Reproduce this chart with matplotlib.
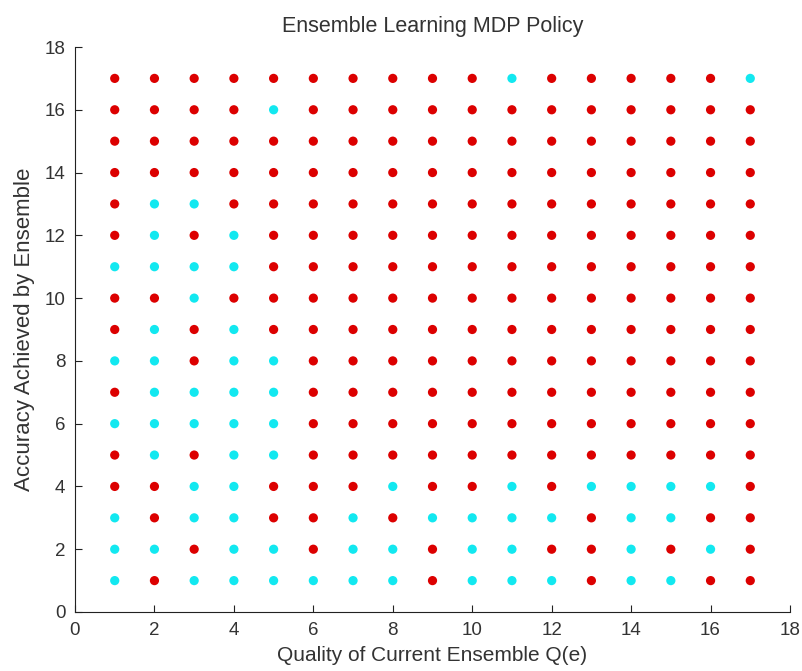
import matplotlib
matplotlib.use("Agg")
import matplotlib.pyplot as plt
from matplotlib import font_manager
import numpy as np

plt.rcParams['font.family'] = ['Liberation Sans', 'DejaVu Sans']
names = {f.name for f in font_manager.fontManager.ttflist}
tick_family = ['Liberation Sans Narrow'] if 'Liberation Sans Narrow' in names else ['Liberation Sans']
tick_size = 15 if 'Liberation Sans Narrow' in names else 13.5

quality = list(range(1, 18))     # x: Quality of Current Ensemble Q(e)
accuracy = list(range(1, 18))    # y: Accuracy Achieved by Ensemble

# policy action per (accuracy row, quality column); 1 = cyan action, 0 = red action
# rows listed from accuracy 17 (top) down to 1 (bottom)
policy_rows = [
    [0,0,0,0,0,0,0,0,0,0,1,0,0,0,0,0,1],  # 17
    [0,0,0,0,1,0,0,0,0,0,0,0,0,0,0,0,0],  # 16
    [0,0,0,0,0,0,0,0,0,0,0,0,0,0,0,0,0],  # 15
    [0,0,0,0,0,0,0,0,0,0,0,0,0,0,0,0,0],  # 14
    [0,1,1,0,0,0,0,0,0,0,0,0,0,0,0,0,0],  # 13
    [0,1,0,1,0,0,0,0,0,0,0,0,0,0,0,0,0],  # 12
    [1,1,1,1,0,0,0,0,0,0,0,0,0,0,0,0,0],  # 11
    [0,0,1,0,0,0,0,0,0,0,0,0,0,0,0,0,0],  # 10
    [0,1,0,1,0,0,0,0,0,0,0,0,0,0,0,0,0],  # 9
    [1,1,0,1,1,0,0,0,0,0,0,0,0,0,0,0,0],  # 8
    [0,1,1,1,1,0,0,0,0,0,0,0,0,0,0,0,0],  # 7
    [1,1,1,1,1,0,0,0,0,0,0,0,0,0,0,0,0],  # 6
    [0,1,0,1,1,0,0,0,0,0,0,0,0,0,0,0,0],  # 5
    [0,0,1,1,0,0,0,1,0,0,1,0,1,1,1,1,0],  # 4
    [1,0,1,1,0,0,1,0,1,1,1,1,0,1,1,0,0],  # 3
    [1,1,0,1,1,0,1,1,0,1,1,0,0,1,0,1,0],  # 2
    [1,0,1,1,1,1,1,1,0,1,1,1,0,1,1,0,0],  # 1
]

x_ticks = list(range(0, 19, 2))
y_ticks = list(range(0, 19, 2))

fig = plt.figure(figsize=(8.02, 6.71), dpi=100)
ax = fig.add_axes([75/802, 59/671, 715/802, 565/671])

P = np.array(policy_rows[::-1])  # index [acc-1, q-1]
X, Y = np.meshgrid(quality, accuracy)
red_mask = P == 0
cy_mask = P == 1
ax.scatter(X[red_mask], Y[red_mask], s=44, c='#dc0000', edgecolors='none', zorder=3)
ax.scatter(X[cy_mask], Y[cy_mask], s=44, c='#12e8f0', edgecolors='none', zorder=3)

ax.set_xlim(0, 18)
ax.set_ylim(0, 18)
ax.set_xticks(x_ticks)
ax.set_yticks(y_ticks)
ax.tick_params(direction='in', length=5, colors='#222222', pad=7)
for lab in ax.get_xticklabels() + ax.get_yticklabels():
    lab.set_family(tick_family)
    lab.set_fontsize(tick_size)
    lab.set_color('#333333')
ax.spines['top'].set_visible(False)
ax.spines['right'].set_visible(False)
for s in ('left', 'bottom'):
    ax.spines[s].set_color('#222222')

ax.set_title('Ensemble Learning MDP Policy', fontsize=15.5, color='#333333', pad=11)
ax.set_xlabel('Quality of Current Ensemble Q(e)', fontsize=15, color='#333333', labelpad=5)
ax.set_ylabel('Accuracy Achieved by Ensemble', fontsize=16, color='#333333', labelpad=7)

fig.savefig('out.png', dpi=100)
